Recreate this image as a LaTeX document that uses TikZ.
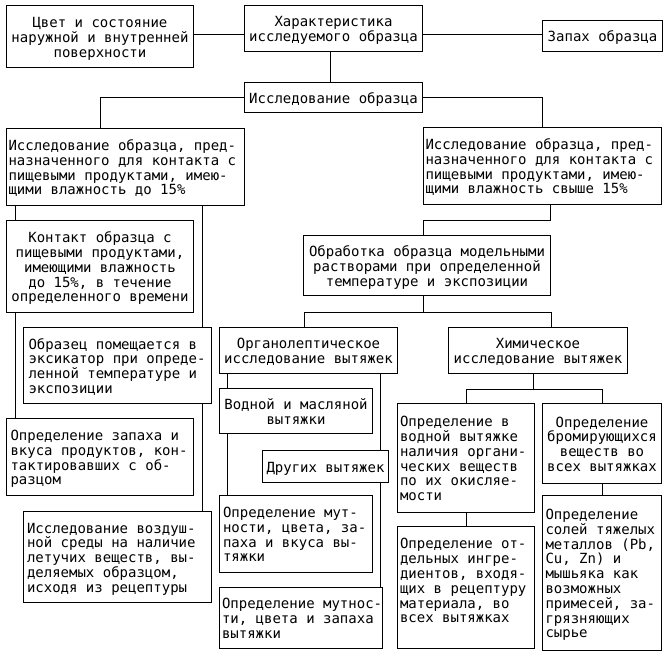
\documentclass[tikz,border=0pt]{standalone}
\usepackage{fontspec}
\setmainfont{DejaVu Sans Mono}
\newdimen\bxw
\newdimen\bxp
\newcommand\tlc[1]{\hbox to \bxw{\hss\smash{#1}\hss\vrule height 11.5pt depth 0pt width 0pt}}
\newcommand\tlf[1]{\hbox to \bxw{\hskip\bxp\smash{#1}\hss\vrule height 11.5pt depth 0pt width 0pt}}
\newcommand\BX[3]{\bxw=#1pt\bxp=#2pt\vbox{\baselineskip=14.8pt\lineskiplimit=-30pt\lineskip=0pt #3}}
\newcommand\BXT[4]{\bxw=#1pt\bxp=#2pt\vbox to #3pt{\baselineskip=14.8pt\lineskiplimit=-30pt\lineskip=0pt\vskip 10.9pt #4\vfill}}
\begin{document}
\begin{tikzpicture}[x=1pt,y=-1pt,
  box/.style={draw, line width=1pt, inner sep=0pt, anchor=north west, font=\fontsize{14}{14.8}\selectfont},
  ln/.style={line width=1pt}]
\useasboundingbox (0,0) rectangle (669,666);
% top row
\node[box, minimum width=187pt, minimum height=62pt] (color) at (6,5)
  {\BX{187}{0}{\tlc{Цвет и состояние}\tlc{наружной и внутренней}\tlc{поверхности}}};
\node[box, minimum width=178pt, minimum height=46pt] (char) at (244,5)
  {\BX{178}{0}{\tlc{Характеристика}\tlc{исследуемого образца}}};
\node[box, minimum width=120pt, minimum height=31pt] (smell) at (542,20)
  {\BX{120}{0}{\tlc{Запах образца}}};
\node[box, minimum width=178pt, minimum height=30pt] (study) at (244,82)
  {\BX{178}{0}{\tlc{Исследование образца}}};
% big boxes
\node[box, minimum width=238pt, minimum height=77pt] (lbig) at (6,128)
  {\BX{238}{2}{\tlf{Исследование образца, пред-}\tlf{назначенного для контакта с}\tlf{пищевыми продуктами, имею-}\tlf{щими влажность до 15\%}}};
\node[box, minimum width=238pt, minimum height=77pt] (rbig) at (423,127)
  {\BX{238}{2}{\tlf{Исследование образца, пред-}\tlf{назначенного для контакта с}\tlf{пищевыми продуктами, имею-}\tlf{щими влажность свыше 15\%}}};
% left column
\node[box, minimum width=187pt, minimum height=92pt] (contact) at (6,220)
  {\BX{187}{0}{\tlc{Контакт образца с}\tlc{пищевыми продуктами,}\tlc{имеющими влажность}\tlc{до 15\%, в течение}\tlc{определенного времени}}};
\node[box, minimum width=188pt, minimum height=76pt] (place) at (23,327)
  {\BX{188}{5}{\tlf{Образец помещается в}\tlf{эксикатор при опреде-}\tlf{ленной температуре и}\tlf{экспозиции}}};
\node[box, minimum width=187pt, minimum height=77pt] (smelltaste) at (6,418)
  {\BX{187}{4}{\tlf{Определение запаха и}\tlf{вкуса продуктов, кон-}\tlf{тактировавших с об-}\tlf{разцом}}};
\node[box, minimum width=188pt, minimum height=91pt] (air) at (23,511)
  {\BX{188}{3.5}{\tlf{Исследование воздуш-}\tlf{ной среды на наличие}\tlf{летучих веществ, вы-}\tlf{деляемых образцом,}\tlf{исходя из рецептуры}}};
% processing
\node[box, minimum width=247pt, minimum height=60pt] (proc) at (303,235)
  {\BX{247}{0}{\tlc{Обработка образца модельными}\tlc{растворами при определенной}\tlc{температуре и экспозиции}}};
\node[box, minimum width=178pt, minimum height=46pt] (organo) at (219,327)
  {\BX{178}{0}{\tlc{Органолептическое}\tlc{исследование вытяжек}}};
\node[box, minimum width=179pt, minimum height=46pt] (chem) at (448,327)
  {\BX{179}{0}{\tlc{Химическое}\tlc{исследование вытяжек}}};
% organoleptic branch
\node[box, minimum width=153pt, minimum height=45pt] (water) at (219,388)
  {\BX{153}{0}{\tlc{Водной и масляной}\tlc{вытяжки}}};
\node[box, minimum width=126pt, minimum height=32pt] (other) at (262,450)
  {\BX{126}{0}{\tlc{Других вытяжек}}};
\node[box, minimum width=153pt, minimum height=77pt] (turb1) at (219,495)
  {\BX{153}{3.5}{\tlf{Определение мут-}\tlf{ности, цвета, за-}\tlf{паха и вкуса вы-}\tlf{тяжки}}};
\node[box, minimum width=163pt, minimum height=61pt] (turb2) at (219,587)
  {\BX{163}{2.5}{\tlf{Определение мутнос-}\tlf{ти, цвета и запаха}\tlf{вытяжки}}};
% chemical branch
\node[box, minimum width=137pt, minimum height=109pt] (watertest) at (397,403)
  {\BX{137}{2.5}{\tlf{Определение в}\tlf{водной вытяжке}\tlf{наличия органи-}\tlf{ческих веществ}\tlf{по их окисляе-}\tlf{мости}}};
\node[box, minimum width=119pt, minimum height=80pt] (bromo) at (542,403)
  {\BX{119}{0}{\tlc{Определение}\tlc{бромирующихся}\tlc{веществ во}\tlc{всех вытяжках}}};
\node[box, minimum width=137pt, minimum height=122pt] (ingr) at (397,526)
  {\BXT{137}{2.5}{122}{\tlf{Определение от-}\tlf{дельных ингре-}\tlf{диентов, входя-}\tlf{щих в рецептуру}\tlf{материала, во}\tlf{всех вытяжках}}};
\node[box, minimum width=119pt, minimum height=155pt] (salts) at (542,495)
  {\BX{119}{3}{\tlf{Определение}\tlf{солей тяжелых}\tlf{металлов (Pb,}\tlf{Cu, Zn) и}\tlf{мышьяка как}\tlf{возможных}\tlf{примесей, за-}\tlf{грязняющих}\tlf{сырье}}};
% guide coordinates
\coordinate (hA) at (0,34.5);
\coordinate (vA) at (330,0);
\coordinate (vL) at (100,0);
\coordinate (vR) at (542,0);
\coordinate (vL1) at (15,0);
\coordinate (vL2) at (202,0);
\coordinate (hB) at (0,220);
\coordinate (vR2) at (550,0);
\coordinate (vP) at (423,0);
\coordinate (hC) at (0,312);
\coordinate (vO) at (304,0);
\coordinate (vC) at (551,0);
\coordinate (vO1) at (227,0);
\coordinate (vO2) at (380,0);
\coordinate (hD) at (0,389);
\coordinate (vC1) at (533,0);
\coordinate (vW) at (466,0);
\coordinate (vB) at (602,0);
% connectors
\draw[ln] (color.east |- hA) -- (char.west |- hA);
\draw[ln] (char.east |- hA) -- (smell.west |- hA);
\draw[ln] (char.south -| vA) -- (study.north -| vA);
\draw[ln] (study.west) -| (lbig.north -| vL);
\draw[ln] (study.east) -| (rbig.north -| vR);
\draw[ln] (lbig.south -| vL1) -- (contact.north -| vL1);
\draw[ln] (contact.south -| vL1) -- (smelltaste.north -| vL1);
\draw[ln] (lbig.south -| vL2) -- (place.north -| vL2);
\draw[ln] (place.south -| vL2) -- (air.north -| vL2);
\draw[ln] (rbig.south -| vR2) |- (hB -| vP) -- (proc.north -| vP);
\draw[ln] (proc.south -| vP) -- (hC -| vP);
\draw[ln] (organo.north -| vO) |- (hC -| vC) -- (chem.north -| vC);
\draw[ln] (organo.south -| vO1) -- (water.north -| vO1);
\draw[ln] (water.south -| vO1) -- (turb1.north -| vO1);
\draw[ln] (organo.south -| vO2) -- (other.north -| vO2);
\draw[ln] (other.south -| vO2) -- (turb2.north -| vO2);
\draw[ln] (chem.south -| vC1) -- (hD -| vC1);
\draw[ln] (watertest.north -| vW) |- (hD -| vB) -- (bromo.north -| vB);
\draw[ln] (watertest.south -| vW) -- (ingr.north -| vW);
\draw[ln] (bromo.south -| vB) -- (salts.north -| vB);
\end{tikzpicture}
\end{document}
